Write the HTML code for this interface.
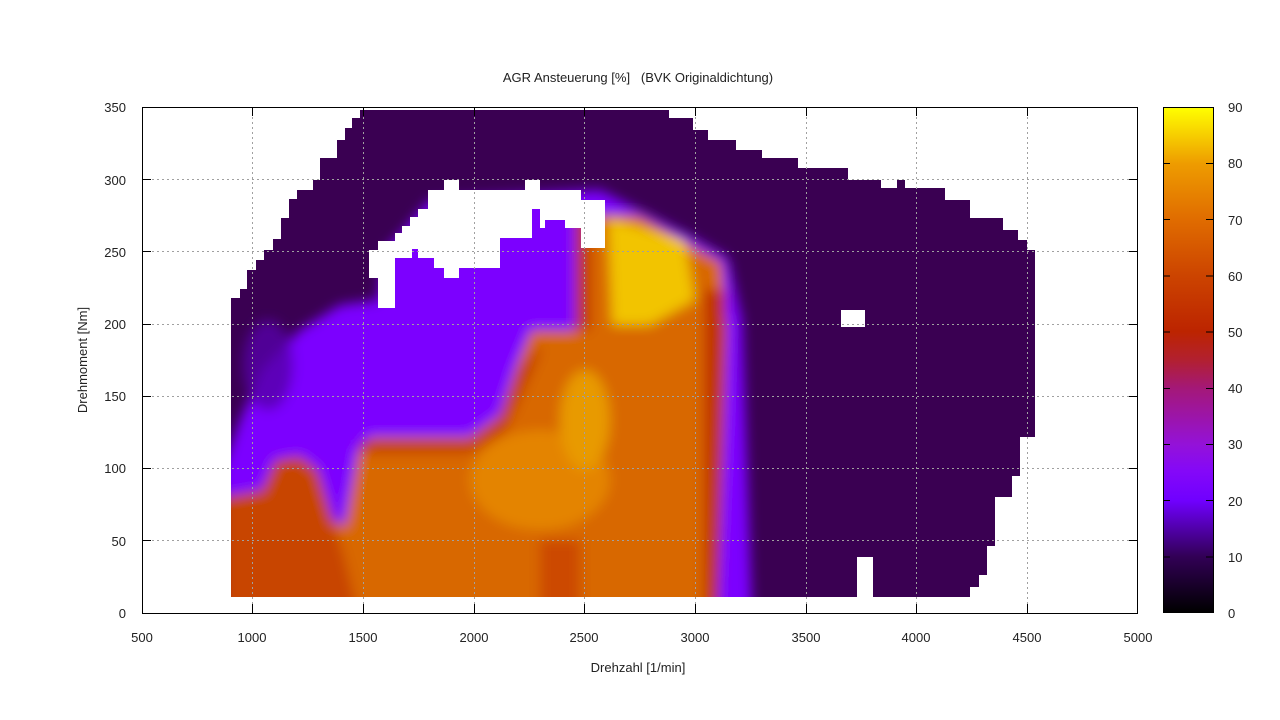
<!DOCTYPE html>
<html><head><meta charset="utf-8"><style>
body{margin:0;background:#fff}
svg{display:block}
text{font-family:"Liberation Sans",sans-serif;font-size:13px;fill:#222}
</style></head><body>
<svg width="1280" height="720" viewBox="0 0 1280 720">
<defs>
<linearGradient id="cb" x1="0" y1="1" x2="0" y2="0">
<stop offset="0" stop-color="#000000"/>
<stop offset="0.111" stop-color="#320056"/>
<stop offset="0.222" stop-color="#7000ff"/>
<stop offset="0.28" stop-color="#8408f8"/>
<stop offset="0.333" stop-color="#9412d8"/>
<stop offset="0.444" stop-color="#a41878"/>
<stop offset="0.5" stop-color="#b22030"/>
<stop offset="0.556" stop-color="#bc2400"/>
<stop offset="0.667" stop-color="#cc4400"/>
<stop offset="0.778" stop-color="#e06c00"/>
<stop offset="0.889" stop-color="#ee9c00"/>
<stop offset="1" stop-color="#ffff00"/>
</linearGradient>
<filter id="bl" x="-10%" y="-10%" width="120%" height="120%"><feGaussianBlur stdDeviation="6"/></filter>
<clipPath id="cp"><polygon points="231,597 231,298 240,298 240,289 247,289 247,270 256,270 256,260 264,260 264,250 273,250 273,239 281,239 281,218 289,218 289,199 297,199 297,190 313,190 313,180 320,180 320,158 337,158 337,140 345,140 345,128 352,128 352,118 360,118 360,110 669,110 669,118 693,118 693,130 708,130 708,140 736,140 736,150 762,150 762,158 798,158 798,168 848,168 848,180 881,180 881,188 897,188 897,180 905,180 905,188 945,188 945,200 970,200 970,218 1003,218 1003,230 1018,230 1018,240 1027,240 1027,250 1035,250 1035,437 1020,437 1020,476 1012,476 1012,497 995,497 995,546 987,546 987,575 979,575 979,587 970,587 970,597 873,597 873,557 857,557 857,597"/></clipPath>
</defs>

<polygon points="231,597 231,298 240,298 240,289 247,289 247,270 256,270 256,260 264,260 264,250 273,250 273,239 281,239 281,218 289,218 289,199 297,199 297,190 313,190 313,180 320,180 320,158 337,158 337,140 345,140 345,128 352,128 352,118 360,118 360,110 669,110 669,118 693,118 693,130 708,130 708,140 736,140 736,150 762,150 762,158 798,158 798,168 848,168 848,180 881,180 881,188 897,188 897,180 905,180 905,188 945,188 945,200 970,200 970,218 1003,218 1003,230 1018,230 1018,240 1027,240 1027,250 1035,250 1035,437 1020,437 1020,476 1012,476 1012,497 995,497 995,546 987,546 987,575 979,575 979,587 970,587 970,597 873,597 873,557 857,557 857,597" fill="#3a0052"/>
<g clip-path="url(#cp)">
<g filter="url(#bl)">
<polygon points="222,470 240,420 262,370 300,330 340,305 378,300 385,250 400,235 430,200 600,190 690,236 728,258 742,320 752,620 222,620" fill="#7c00ff"/>
<ellipse cx="268" cy="365" rx="25" ry="45" fill="#5500a8" opacity="0.8"/>
<polygon points="222,620 222,497 262,490 275,460 300,456 318,470 330,520 345,525 358,450 370,437 470,437 500,415 516,367 531,330 575,330 577,215 640,215 700,250 722,262 727,330 718,620" fill="#d86800"/>
<polygon points="222,620 222,497 262,490 275,460 300,456 318,470 345,560 360,620" fill="#c84400"/>
<polygon points="360,442 470,442 500,420 520,370 540,345 540,352 505,430 470,452 360,452" fill="#c03400"/>
<ellipse cx="540" cy="480" rx="70" ry="50" fill="#e48400"/>
<ellipse cx="585" cy="420" rx="25" ry="50" fill="#e89a00"/>
<polygon points="608,218 685,240 695,300 650,325 612,325" fill="#f2c400"/>
<polygon points="575,215 590,215 590,330 575,330" fill="#c03000"/>
<polygon points="704,290 726,290 718,620 704,620" fill="#c03000"/>
<polygon points="540,540 580,540 580,620 540,620" fill="#cc4a00"/>
</g>
</g>
<polygon points="369,278 369,250 378,250 378,241 395,241 395,233 402,233 402,226 410,226 410,217 418,217 418,209 428,209 428,190 444,190 444,180 459,180 459,190 525,190 525,180 540,180 540,190 581,190 581,200 605,200 605,248 581,248 581,228 565,228 565,220 545,220 545,228 540,228 540,209 532,209 532,238 500,238 500,268 459,268 459,278 444,278 444,268 434,268 434,258 418,258 418,249 412,249 412,258 395,258 395,308 378,308 378,278" fill="#fff"/>
<rect x="841" y="310" width="24" height="17" fill="#fff"/>

<g stroke="#a0a0a0" stroke-width="1" stroke-dasharray="2,3">
<line x1="252.5" y1="107" x2="252.5" y2="613"/><line x1="363.5" y1="107" x2="363.5" y2="613"/>
<line x1="474.5" y1="107" x2="474.5" y2="613"/><line x1="584.5" y1="107" x2="584.5" y2="613"/>
<line x1="695.5" y1="107" x2="695.5" y2="613"/><line x1="806.5" y1="107" x2="806.5" y2="613"/>
<line x1="916.5" y1="107" x2="916.5" y2="613"/><line x1="1027.5" y1="107" x2="1027.5" y2="613"/>
<line x1="142" y1="540.5" x2="1138" y2="540.5"/><line x1="142" y1="468.5" x2="1138" y2="468.5"/>
<line x1="142" y1="396.5" x2="1138" y2="396.5"/><line x1="142" y1="324.5" x2="1138" y2="324.5"/>
<line x1="142" y1="251.5" x2="1138" y2="251.5"/><line x1="142" y1="179.5" x2="1138" y2="179.5"/>
</g>
<rect x="142.5" y="107.5" width="995" height="506" fill="none" stroke="#000"/>
<g stroke="#000">
<line x1="252.5" y1="613" x2="252.5" y2="604"/><line x1="363.5" y1="613" x2="363.5" y2="604"/><line x1="474.5" y1="613" x2="474.5" y2="604"/><line x1="584.5" y1="613" x2="584.5" y2="604"/><line x1="695.5" y1="613" x2="695.5" y2="604"/><line x1="806.5" y1="613" x2="806.5" y2="604"/><line x1="916.5" y1="613" x2="916.5" y2="604"/><line x1="1027.5" y1="613" x2="1027.5" y2="604"/>
<line x1="252.5" y1="107" x2="252.5" y2="116"/><line x1="363.5" y1="107" x2="363.5" y2="116"/><line x1="474.5" y1="107" x2="474.5" y2="116"/><line x1="584.5" y1="107" x2="584.5" y2="116"/><line x1="695.5" y1="107" x2="695.5" y2="116"/><line x1="806.5" y1="107" x2="806.5" y2="116"/><line x1="916.5" y1="107" x2="916.5" y2="116"/><line x1="1027.5" y1="107" x2="1027.5" y2="116"/>
<line x1="142" y1="540.5" x2="151" y2="540.5"/><line x1="142" y1="468.5" x2="151" y2="468.5"/><line x1="142" y1="396.5" x2="151" y2="396.5"/><line x1="142" y1="324.5" x2="151" y2="324.5"/><line x1="142" y1="251.5" x2="151" y2="251.5"/><line x1="142" y1="179.5" x2="151" y2="179.5"/>
<line x1="1138" y1="540.5" x2="1129" y2="540.5"/><line x1="1138" y1="468.5" x2="1129" y2="468.5"/><line x1="1138" y1="396.5" x2="1129" y2="396.5"/><line x1="1138" y1="324.5" x2="1129" y2="324.5"/><line x1="1138" y1="251.5" x2="1129" y2="251.5"/><line x1="1138" y1="179.5" x2="1129" y2="179.5"/>
</g>
<g text-anchor="end">
<text x="126" y="618">0</text><text x="126" y="546">50</text><text x="126" y="473">100</text><text x="126" y="401">150</text><text x="126" y="329">200</text><text x="126" y="257">250</text><text x="126" y="185">300</text><text x="126" y="112">350</text>
</g>
<g text-anchor="middle">
<text x="142" y="642">500</text><text x="252" y="642">1000</text><text x="363" y="642">1500</text><text x="474" y="642">2000</text><text x="584" y="642">2500</text><text x="695" y="642">3000</text><text x="806" y="642">3500</text><text x="916" y="642">4000</text><text x="1027" y="642">4500</text><text x="1138" y="642">5000</text>
<text x="638" y="672" font-size="14">Drehzahl [1/min]</text>
<text x="638" y="82" font-size="14" xml:space="preserve" style="white-space:pre">AGR Ansteuerung [%]   (BVK Originaldichtung)</text>
<text x="0" y="0" font-size="14" transform="translate(87,360) rotate(-90)">Drehmoment [Nm]</text>
</g>

<rect x="1163.5" y="107.5" width="50" height="505" fill="url(#cb)" stroke="#000"/>
<g stroke="#000">
<line x1="1163" y1="557" x2="1170" y2="557"/><line x1="1206" y1="557" x2="1213" y2="557"/>
<line x1="1163" y1="500.5" x2="1170" y2="500.5"/><line x1="1206" y1="500.5" x2="1213" y2="500.5"/>
<line x1="1163" y1="444.5" x2="1170" y2="444.5"/><line x1="1206" y1="444.5" x2="1213" y2="444.5"/>
<line x1="1163" y1="388.5" x2="1170" y2="388.5"/><line x1="1206" y1="388.5" x2="1213" y2="388.5"/>
<line x1="1163" y1="332" x2="1170" y2="332"/><line x1="1206" y1="332" x2="1213" y2="332"/>
<line x1="1163" y1="276" x2="1170" y2="276"/><line x1="1206" y1="276" x2="1213" y2="276"/>
<line x1="1163" y1="219.5" x2="1170" y2="219.5"/><line x1="1206" y1="219.5" x2="1213" y2="219.5"/>
<line x1="1163" y1="163.5" x2="1170" y2="163.5"/><line x1="1206" y1="163.5" x2="1213" y2="163.5"/>
</g>
<g>
<text x="1228" y="618">0</text><text x="1228" y="562">10</text><text x="1228" y="506">20</text><text x="1228" y="449">30</text><text x="1228" y="393">40</text><text x="1228" y="337">50</text><text x="1228" y="281">60</text><text x="1228" y="225">70</text><text x="1228" y="168">80</text><text x="1228" y="112">90</text>
</g>
</svg>
</body></html>
